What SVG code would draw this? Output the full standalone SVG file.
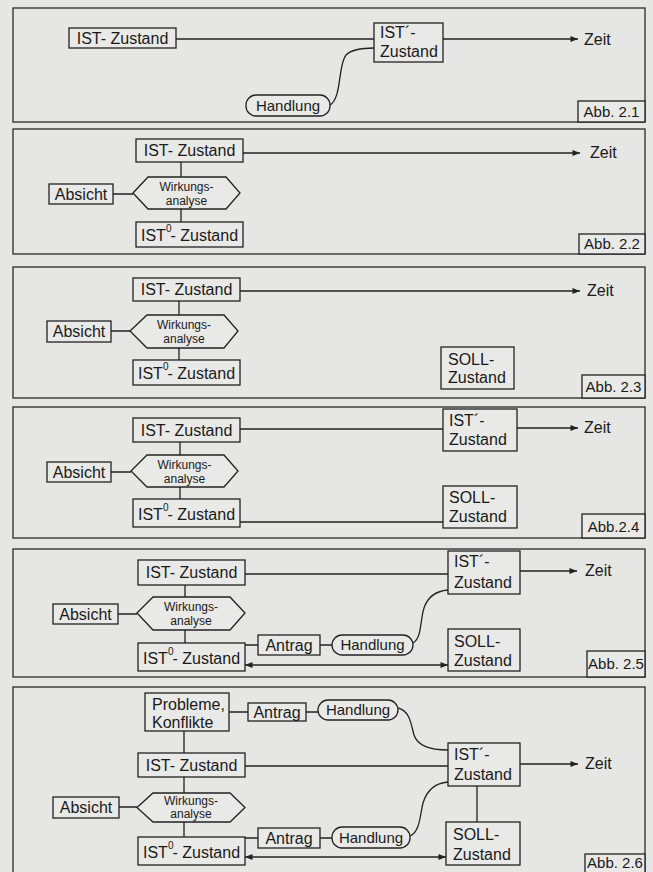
<svg xmlns="http://www.w3.org/2000/svg" width="653" height="872" viewBox="0 0 653 872">
<defs>
<style>
.bg{fill:#e6e6e4}
.frame{fill:none;stroke:#2a2a2a;stroke-width:1.3}
.box{fill:#e9e9e7;stroke:#222;stroke-width:1.3}
.ln{fill:none;stroke:#222;stroke-width:1.3}
text{font-family:"Liberation Sans",Arial,sans-serif;font-size:16px;fill:#1a1a1a}
.c{text-anchor:middle}
.s{font-size:12px}
.h{font-size:15px}
.a{font-size:15px}
.sup{font-size:10px}
</style>
<marker id="arr" viewBox="0 0 10 8" refX="10" refY="4" markerWidth="8" markerHeight="6" markerUnits="userSpaceOnUse" orient="auto-start-reverse">
<path d="M0,0 L10,4 L0,8 Z" fill="#222"/>
</marker>
</defs>
<rect class="bg" x="0" y="0" width="653" height="872"/>

<!-- Panel frames -->
<g id="frames">
<rect class="frame" x="13" y="8" width="632" height="114"/>
<rect class="frame" x="13" y="129" width="632" height="125"/>
<rect class="frame" x="13" y="267" width="632" height="131"/>
<rect class="frame" x="13" y="407" width="632" height="131"/>
<rect class="frame" x="13" y="549" width="632" height="128"/>
<rect class="frame" x="13" y="687" width="632" height="200"/>
</g>

<!-- Connectors -->
<g id="connectors">
<!-- 2.1 -->
<path class="ln" d="M176,39 H374"/>
<path class="ln" d="M443,39 H578" marker-end="url(#arr)"/>
<path class="ln" d="M330,105 C342,98 338,64 346,55 C352,49 362,48 374,48"/>
<!-- 2.2 -->
<path class="ln" d="M243,153 H580" marker-end="url(#arr)"/>
<path class="ln" d="M181,162 V177 M181,209 V222 M113,194 H133"/>
<!-- 2.3 -->
<path class="ln" d="M240,291 H580" marker-end="url(#arr)"/>
<path class="ln" d="M179,301 V315 M179,348 V360 M111,331 H130"/>
<!-- 2.4 -->
<path class="ln" d="M240,429 H443 M240,522 H443"/>
<path class="ln" d="M517,428 H578" marker-end="url(#arr)"/>
<path class="ln" d="M180,442 V455 M180,487 V499 M111,472 H131"/>
<!-- 2.5 -->
<path class="ln" d="M245,574 H448"/>
<path class="ln" d="M520,571 H577" marker-end="url(#arr)"/>
<path class="ln" d="M185,585 V597 M185,630 V643 M118,614 H137"/>
<path class="ln" d="M245,645 H258 M320,645 H332"/>
<path class="ln" d="M413,643 C422,638 420,620 424,608 C428,596 436,591 448,590"/>
<path class="ln" d="M245,665 H448" marker-start="url(#arr)" marker-end="url(#arr)"/>
<!-- 2.6 -->
<path class="ln" d="M229,712 H248 M306,712 H318"/>
<path class="ln" d="M398,708 C410,711 411,724 414,735 C418,747 432,750 448,750"/>
<path class="ln" d="M184,731 V753 M184,777 V793 M184,822 V837 M119,807 H137"/>
<path class="ln" d="M245,766 H448"/>
<path class="ln" d="M520,764 H578" marker-end="url(#arr)"/>
<path class="ln" d="M477,786 V822"/>
<path class="ln" d="M245,838 H258 M320,838 H332"/>
<path class="ln" d="M410,836 C420,832 420,815 423,803 C427,790 435,783 448,782"/>
<path class="ln" d="M245,857 H446" marker-start="url(#arr)" marker-end="url(#arr)"/>
</g>

<!-- ===== Abb 2.1 ===== -->
<g id="p1-ist"><rect class="box" x="69" y="28" width="107" height="20"/><text class="c" x="122.5" y="44">IST- Zustand</text></g>
<g id="p1-istp"><rect class="box" x="374" y="23" width="69" height="39"/><text x="380" y="38">IST´-</text><text x="380" y="57">Zustand</text></g>
<g id="p1-zeit"><text x="584" y="45">Zeit</text></g>
<g id="p1-handlung"><rect class="box" x="246" y="95" width="84" height="21" rx="10"/><text class="c h" x="288" y="111">Handlung</text></g>
<g id="p1-abb"><rect class="box" x="578" y="101" width="67" height="21"/><text class="c a" x="611.5" y="117">Abb. 2.1</text></g>

<!-- ===== Abb 2.2 ===== -->
<g id="p2-ist"><rect class="box" x="136" y="139" width="107" height="23"/><text class="c" x="189.5" y="156">IST- Zustand</text></g>
<g id="p2-wirk"><polygon class="box" points="133,193 148,177 226,177 240,193 226,209 148,209"/><text class="c s" x="186.5" y="191">Wirkungs-</text><text class="c s" x="186.5" y="205">analyse</text></g>
<g id="p2-absicht"><rect class="box" x="49" y="184" width="64" height="20"/><text class="c" x="81" y="200">Absicht</text></g>
<g id="p2-ist0"><rect class="box" x="136" y="222" width="107" height="25"/><text x="141" y="241">IST<tspan class="sup" dy="-9">0</tspan><tspan dx="-1" dy="9">- Zustand</tspan></text></g>
<g id="p2-zeit"><text x="590" y="158">Zeit</text></g>
<g id="p2-abb"><rect class="box" x="579" y="234" width="66" height="20"/><text class="c a" x="612" y="249">Abb. 2.2</text></g>

<!-- ===== Abb 2.3 ===== -->
<g id="p3-ist"><rect class="box" x="133" y="278" width="107" height="23"/><text class="c" x="186.5" y="295">IST- Zustand</text></g>
<g id="p3-wirk"><polygon class="box" points="130,331 147,315 224,315 238,331 224,348 147,348"/><text class="c s" x="184" y="329">Wirkungs-</text><text class="c s" x="184" y="343">analyse</text></g>
<g id="p3-absicht"><rect class="box" x="47" y="321" width="64" height="21"/><text class="c" x="79" y="337">Absicht</text></g>
<g id="p3-ist0"><rect class="box" x="133" y="360" width="107" height="25"/><text x="138" y="379">IST<tspan class="sup" dy="-9">0</tspan><tspan dx="-1" dy="9">- Zustand</tspan></text></g>
<g id="p3-zeit"><text x="587" y="296">Zeit</text></g>
<g id="p3-soll"><rect class="box" x="441" y="347" width="73" height="42"/><text x="448" y="365">SOLL-</text><text x="448" y="383">Zustand</text></g>
<g id="p3-abb"><rect class="box" x="582" y="375" width="63" height="23"/><text class="c a" x="613.5" y="392">Abb. 2.3</text></g>

<!-- ===== Abb 2.4 ===== -->
<g id="p4-ist"><rect class="box" x="133" y="418" width="107" height="24"/><text class="c" x="186.5" y="436">IST- Zustand</text></g>
<g id="p4-wirk"><polygon class="box" points="131,471 147,455 224,455 238,471 224,487 147,487"/><text class="c s" x="184.5" y="469">Wirkungs-</text><text class="c s" x="184.5" y="483">analyse</text></g>
<g id="p4-absicht"><rect class="box" x="47" y="462" width="64" height="20"/><text class="c" x="79" y="478">Absicht</text></g>
<g id="p4-ist0"><rect class="box" x="133" y="499" width="107" height="28"/><text x="138" y="520">IST<tspan class="sup" dy="-9">0</tspan><tspan dx="-1" dy="9">- Zustand</tspan></text></g>
<g id="p4-istp"><rect class="box" x="443" y="409" width="74" height="42"/><text x="449" y="426">IST´-</text><text x="449" y="445">Zustand</text></g>
<g id="p4-zeit"><text x="584" y="433">Zeit</text></g>
<g id="p4-soll"><rect class="box" x="443" y="486" width="74" height="42"/><text x="449" y="503">SOLL-</text><text x="449" y="522">Zustand</text></g>
<g id="p4-abb"><rect class="box" x="582" y="514" width="63" height="24"/><text class="c a" x="613.5" y="532">Abb.2.4</text></g>

<!-- ===== Abb 2.5 ===== -->
<g id="p5-ist"><rect class="box" x="138" y="560" width="107" height="25"/><text class="c" x="191.5" y="578">IST- Zustand</text></g>
<g id="p5-wirk"><polygon class="box" points="137,613 153,597 230,597 245,613 230,630 153,630"/><text class="c s" x="191" y="611">Wirkungs-</text><text class="c s" x="191" y="625">analyse</text></g>
<g id="p5-absicht"><rect class="box" x="53" y="604" width="65" height="20"/><text class="c" x="85.5" y="620">Absicht</text></g>
<g id="p5-ist0"><rect class="box" x="138" y="643" width="107" height="28"/><text x="143" y="664">IST<tspan class="sup" dy="-9">0</tspan><tspan dx="-1" dy="9">- Zustand</tspan></text></g>
<g id="p5-antrag"><rect class="box" x="258" y="635" width="62" height="20"/><text class="c" x="289" y="651">Antrag</text></g>
<g id="p5-handlung"><rect class="box" x="332" y="635" width="81" height="20" rx="10"/><text class="c h" x="372.5" y="650">Handlung</text></g>
<g id="p5-istp"><rect class="box" x="448" y="551" width="72" height="43"/><text x="454" y="567">IST´-</text><text x="454" y="588">Zustand</text></g>
<g id="p5-zeit"><text x="585" y="576">Zeit</text></g>
<g id="p5-soll"><rect class="box" x="448" y="629" width="72" height="42"/><text x="454" y="647">SOLL-</text><text x="454" y="666">Zustand</text></g>
<g id="p5-abb"><rect class="box" x="587" y="651" width="58" height="26"/><text class="c a" x="616" y="669">Abb. 2.5</text></g>

<!-- ===== Abb 2.6 ===== -->
<g id="p6-probleme"><rect class="box" x="145" y="693" width="84" height="38"/><text x="152" y="710">Probleme,</text><text x="152" y="728">Konflikte</text></g>
<g id="p6-antrag1"><rect class="box" x="248" y="703" width="58" height="18"/><text class="c" x="277" y="718">Antrag</text></g>
<g id="p6-handlung1"><rect class="box" x="318" y="700" width="80" height="20" rx="10"/><text class="c h" x="358" y="715">Handlung</text></g>
<g id="p6-ist"><rect class="box" x="138" y="753" width="107" height="24"/><text class="c" x="191.5" y="771">IST- Zustand</text></g>
<g id="p6-istp"><rect class="box" x="448" y="743" width="72" height="43"/><text x="454" y="760">IST´-</text><text x="454" y="780">Zustand</text></g>
<g id="p6-zeit"><text x="585" y="769">Zeit</text></g>
<g id="p6-wirk"><polygon class="box" points="137,807.5 153,793 230,793 245,807.5 230,822 153,822"/><text class="c s" x="191" y="805">Wirkungs-</text><text class="c s" x="191" y="818">analyse</text></g>
<g id="p6-absicht"><rect class="box" x="53" y="797" width="66" height="21"/><text class="c" x="86" y="813">Absicht</text></g>
<g id="p6-ist0"><rect class="box" x="138" y="837" width="107" height="28"/><text x="143" y="858">IST<tspan class="sup" dy="-9">0</tspan><tspan dx="-1" dy="9">- Zustand</tspan></text></g>
<g id="p6-antrag2"><rect class="box" x="258" y="828" width="62" height="20"/><text class="c" x="289" y="844">Antrag</text></g>
<g id="p6-handlung2"><rect class="box" x="332" y="827" width="78" height="21" rx="10"/><text class="c h" x="371" y="843">Handlung</text></g>
<g id="p6-soll"><rect class="box" x="446" y="822" width="74" height="43"/><text x="453" y="840">SOLL-</text><text x="453" y="860">Zustand</text></g>
<g id="p6-abb"><rect class="box" x="585" y="854" width="60" height="22"/><text class="c a" x="615" y="868">Abb. 2.6</text></g>
</svg>
